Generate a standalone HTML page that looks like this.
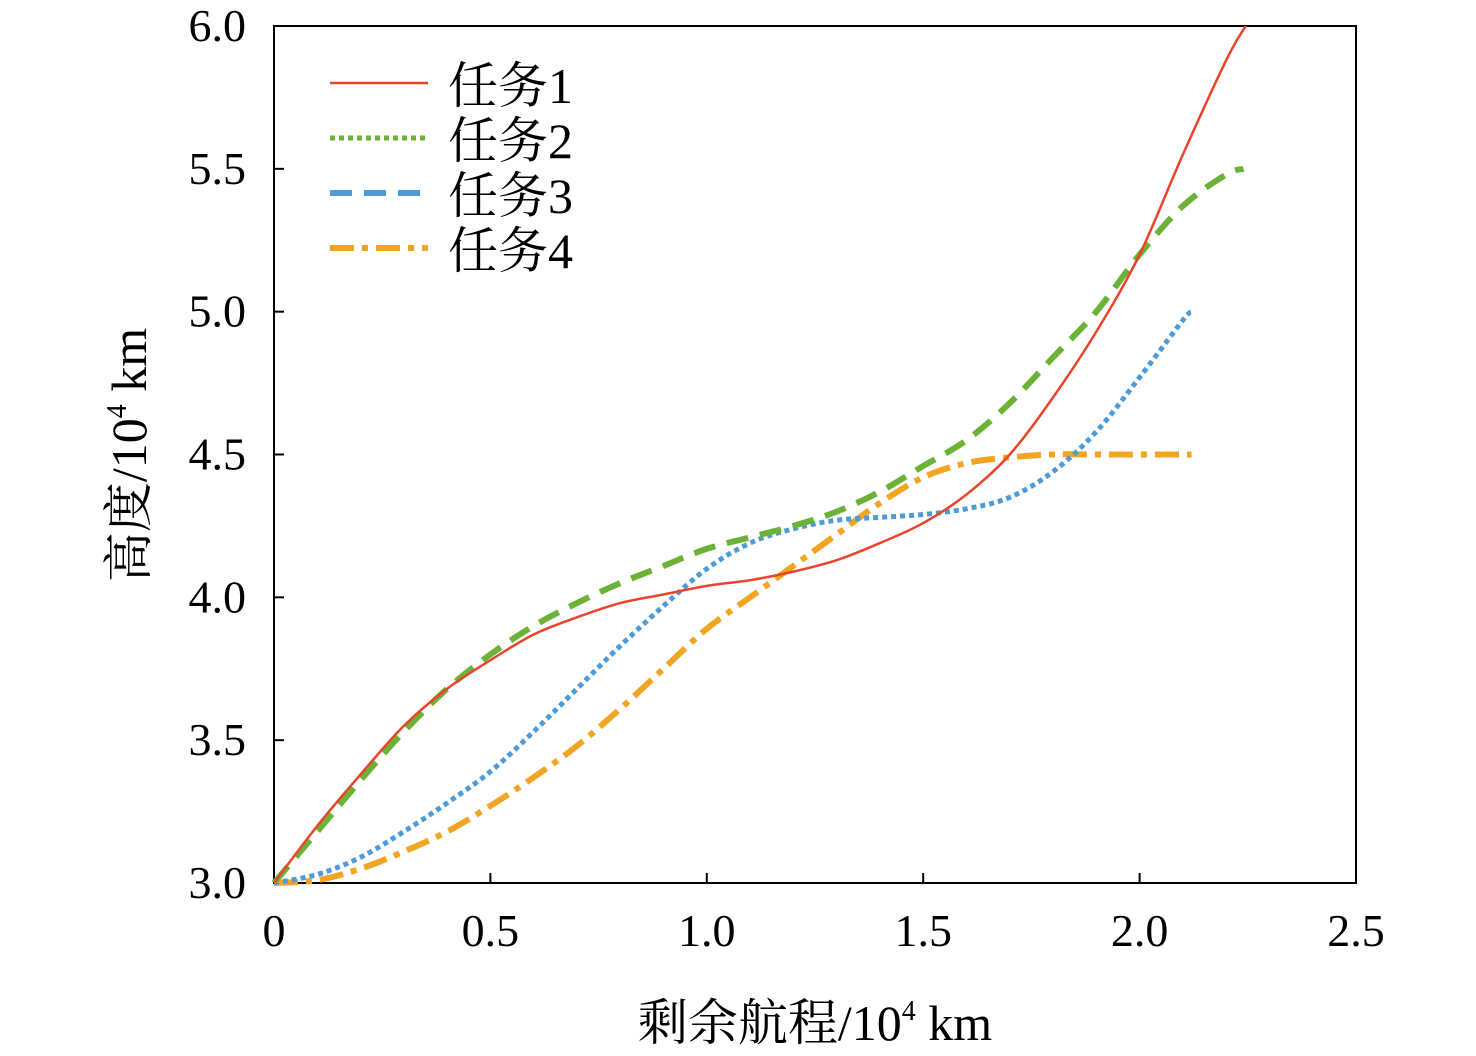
<!DOCTYPE html>
<html><head><meta charset="utf-8">
<style>
html,body{margin:0;padding:0;background:#fff;}
svg{display:block;font-family:"Liberation Serif","Noto Serif CJK SC",serif;}
</style></head>
<body>
<svg id="chart" width="1476" height="1056" viewBox="0 0 1476 1056">
<g id="axes"></g>
<g id="series"></g>
<g id="legend"></g>
<text x="815" y="1040" font-size="50" text-anchor="middle">剩余航程/10<tspan font-size="28" dy="-20">4</tspan><tspan dy="20"> km</tspan></text>
<text transform="translate(146,455) rotate(-90)" font-size="50" text-anchor="middle">高度/10<tspan font-size="28" dy="-20">4</tspan><tspan dy="20"> km</tspan></text>
</svg>
<script>
const xTicks=[0,0.5,1.0,1.5,2.0,2.5];
const xTickLabels=["0","0.5","1.0","1.5","2.0","2.5"];
const yTicks=[3.0,3.5,4.0,4.5,5.0,5.5,6.0];
const yTickLabels=["3.0","3.5","4.0","4.5","5.0","5.5","6.0"];
const seriesNames=["任务1","任务2","任务3","任务4"];
const x1=[0,0.1,0.2,0.3,0.4,0.5,0.6,0.7,0.8,0.9,1.0,1.1,1.2,1.3,1.4,1.5,1.6,1.7,1.8,1.9,2.0,2.1,2.2,2.245];
const y1=[3.0,3.2,3.38,3.55,3.68,3.78,3.87,3.93,3.98,4.01,4.04,4.06,4.09,4.13,4.19,4.26,4.36,4.5,4.7,4.93,5.2,5.55,5.88,6.0];
const x2=[0,0.1,0.2,0.3,0.4,0.5,0.6,0.7,0.8,0.9,1.0,1.1,1.2,1.3,1.4,1.5,1.6,1.7,1.8,1.9,2.0,2.1,2.2,2.24];
const y2=[3.0,3.18,3.36,3.53,3.68,3.8,3.9,3.98,4.05,4.11,4.17,4.21,4.25,4.3,4.37,4.46,4.55,4.68,4.84,5.0,5.2,5.37,5.48,5.5];
const x3=[0,0.1,0.2,0.3,0.4,0.5,0.6,0.7,0.8,0.9,1.0,1.1,1.2,1.3,1.4,1.5,1.6,1.7,1.8,1.9,2.0,2.1,2.12];
const y3=[3.0,3.03,3.09,3.18,3.28,3.39,3.53,3.68,3.83,3.97,4.1,4.19,4.24,4.27,4.28,4.29,4.31,4.35,4.44,4.58,4.77,4.97,5.0];
const x4=[0,0.1,0.2,0.3,0.4,0.5,0.6,0.7,0.8,0.9,1.0,1.1,1.2,1.3,1.4,1.5,1.6,1.7,1.8,1.9,2.0,2.12];
const y4=[3.0,3.01,3.05,3.11,3.18,3.27,3.37,3.48,3.61,3.75,3.89,4.0,4.11,4.22,4.33,4.42,4.47,4.49,4.5,4.5,4.5,4.5];

const NS="http://www.w3.org/2000/svg";
const L=274,R=1356,T=26,B=883;
const sx=v=>L+(v-0)/2.5*(R-L);
const sy=v=>B-(v-3)/3*(B-T);
function mk(tag,attrs,parent){const e=document.createElementNS(NS,tag);for(const k in attrs)e.setAttribute(k,attrs[k]);parent.appendChild(e);return e;}
const axes=document.getElementById('axes');
const frame=mk('rect',{x:L,y:T,width:R-L,height:B-T,fill:'none',stroke:'#000','stroke-width':2},axes);


xTicks.forEach((v,i)=>{
  const t=mk('line',{x1:sx(v),x2:sx(v),y1:B,y2:B-10,stroke:'#000','stroke-width':2},axes);
  
  
  const lb=mk('text',{x:sx(v),y:946,'font-size':46,'text-anchor':'middle'},axes);
  lb.textContent=xTickLabels[i];
  
  
});
yTicks.forEach((v,i)=>{
  const t=mk('line',{x1:L,x2:L+10,y1:sy(v),y2:sy(v),stroke:'#000','stroke-width':2},axes);
  
  
  const lb=mk('text',{x:246,y:sy(v)+15,'font-size':46,'text-anchor':'end'},axes);
  lb.textContent=yTickLabels[i];
  
  
});
function smooth(xs,ys){
  const p=xs.map((x,i)=>[sx(x),sy(ys[i])]);
  let d='M'+p[0][0]+','+p[0][1];
  for(let i=0;i<p.length-1;i++){
    const p0=p[i-1]||p[i],p1=p[i],p2=p[i+1],p3=p[i+2]||p2;
    const c1=[p1[0]+(p2[0]-p0[0])/6,p1[1]+(p2[1]-p0[1])/6];
    const c2=[p2[0]-(p3[0]-p1[0])/6,p2[1]-(p3[1]-p1[1])/6];
    d+=' C'+c1.join(',')+' '+c2.join(',')+' '+p2.join(',');
  }
  return d;
}
const styles=[
 {stroke:'#e8452c',w:2.5,dash:''},
 {stroke:'#6bb236',w:6,dash:'22,12'},
 {stroke:'#4d9bd8',w:5,dash:'5,4'},
 {stroke:'#f2a423',w:6,dash:'24,8,6,8'}
];
const legStyles=[
 {stroke:'#e8452c',w:2.5,dash:''},
 {stroke:'#6bb236',w:5,dash:'5,4'},
 {stroke:'#4d9bd8',w:6,dash:'22,12'},
 {stroke:'#f2a423',w:6,dash:'24,8,6,8'}
];
const data=[[x1,y1],[x2,y2],[x3,y3],[x4,y4]];
const sg=document.getElementById('series');
const order=[3,2,1,0];
order.forEach(i=>{
  const s=styles[i];
  const pth=mk('path',{d:smooth(data[i][0],data[i][1]),fill:'none',stroke:s.stroke,'stroke-width':s.w,'stroke-dasharray':s.dash},sg);
  
  
});
const lg=document.getElementById('legend');
seriesNames.forEach((n,i)=>{
  const y=83+i*55;
  const s=legStyles[i];
  const ln=mk('line',{x1:330,x2:428,y1:y,y2:y,stroke:s.stroke,'stroke-width':s.w,'stroke-dasharray':s.dash},lg);
  
  
  const tx=mk('text',{x:448,y:y+20,'font-size':50},lg);
  tx.textContent=n;
  
  
});
</script>
</body></html>
